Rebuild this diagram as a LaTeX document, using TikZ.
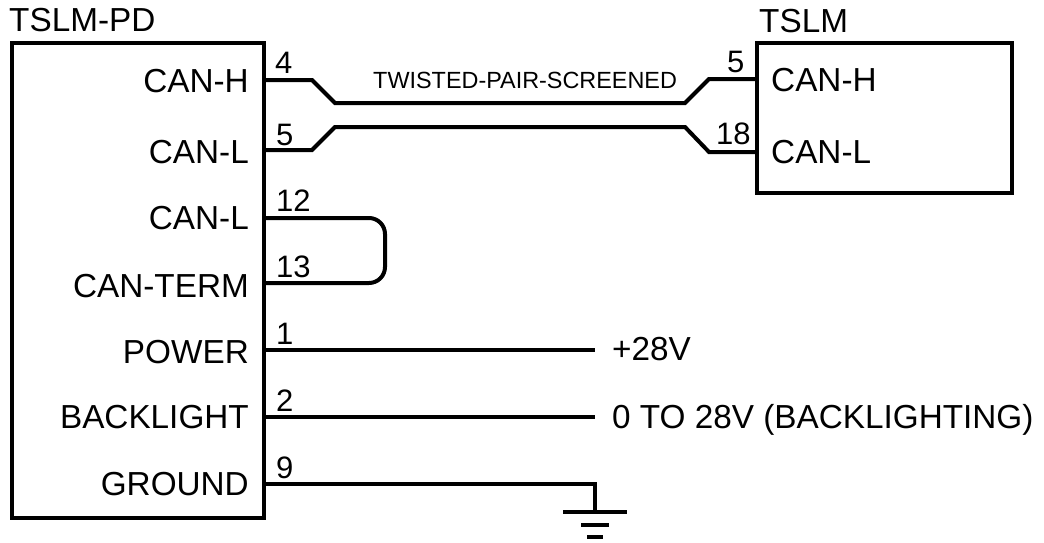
\documentclass[tikz,border=0pt]{standalone}
\usepackage{fontspec}
\setmainfont{Liberation Sans}
\begin{document}
\begin{tikzpicture}[x=1pt,y=-1pt,
  wire/.style={line width=4pt, line join=miter},
  boxline/.style={line width=4pt},
  lbl/.style={inner sep=0pt, font=\fontsize{33.3}{40}\selectfont},
  pin/.style={inner sep=0pt, font=\fontsize{31}{37}\selectfont, anchor=base west},
  small/.style={inner sep=0pt, font=\fontsize{23.4}{28}\selectfont, anchor=base west}]
\useasboundingbox (0,0) rectangle (1044,542);
% boxes
\draw[boxline] (12,43) rectangle (264,518);
\draw[boxline] (757,43) rectangle (1012,193);
\node[lbl, anchor=base west] (tpd) at (9,31) {TSLM-PD};
\node[lbl, anchor=base west] (tslm) at (759,32) {TSLM};
% left labels
\node[lbl, anchor=base east] (lh) at (249,92) {CAN-H};
\node[lbl, anchor=base east] (ll) at (249,163) {CAN-L};
\node[lbl, anchor=base east] (ll2) at (249,229) {CAN-L};
\node[lbl, anchor=base east] (lterm) at (249,297) {CAN-TERM};
\node[lbl, anchor=base east] (lpow) at (249,363) {POWER};
\node[lbl, anchor=base east] (lback) at (249,428) {BACKLIGHT};
\node[lbl, anchor=base east] (lgnd) at (249,495) {GROUND};
% right labels
\node[lbl, anchor=base west] (rh) at (771,91) {CAN-H};
\node[lbl, anchor=base west] (rl) at (771,163) {CAN-L};
% pins
\coordinate (p4) at (264,80);
\coordinate (p5) at (264,150);
\coordinate (p12) at (264,218);
\coordinate (p13) at (264,283);
\coordinate (p1) at (264,350);
\coordinate (p2) at (264,417);
\coordinate (p9) at (264,484);
\coordinate (q5) at (757,79);
\coordinate (q18) at (757,152);
\coordinate (e1) at (595,350);
\coordinate (e2) at (595,417);
\coordinate (g) at (595,512);
% pin numbers
\node[pin] (n4) at (275,73) {4};
\node[pin] (n5) at (276,145) {5};
\node[pin] (n12) at (276,211) {12};
\node[pin] (n13) at (276,277) {13};
\node[pin] (n1) at (276,344) {1};
\node[pin] (n2) at (276,411) {2};
\node[pin] (n9) at (276,478) {9};
\node[pin] (m5) at (727,72) {5};
\node[pin] (m18) at (716,144) {18};
% twisted pair
\draw[wire] (p4) -- (312,80) -- (335,103) -- (685,103) -- (709,79) -- (q5);
\draw[wire] (p5) -- (312,150) -- (335,127) -- (685,127) -- (709,152) -- (q18);
\node[small] (tw) at (373,88) {TWISTED-PAIR-SCREENED};
% termination loop
\draw[wire, rounded corners=16pt] (p12) -- (385,218) -- (385,283) -- (p13);
% power, backlight
\draw[wire] (p1) -- (e1);
\draw[wire] (p2) -- (e2);
\node[lbl, anchor=base west] (v28) at (612,360) {+28V};
\node[lbl, anchor=base west] (vb) at (612,428) {0 TO 28V (BACKLIGHTING)};
% ground
\draw[wire] (p9) -- (595,484) -- (g);
\draw[line width=4pt] (563,512) -- (627,512);
\draw[line width=4pt] (581,525) -- (609,525);
\draw[line width=4pt] (587,537) -- (603,537);
\end{tikzpicture}
\end{document}
